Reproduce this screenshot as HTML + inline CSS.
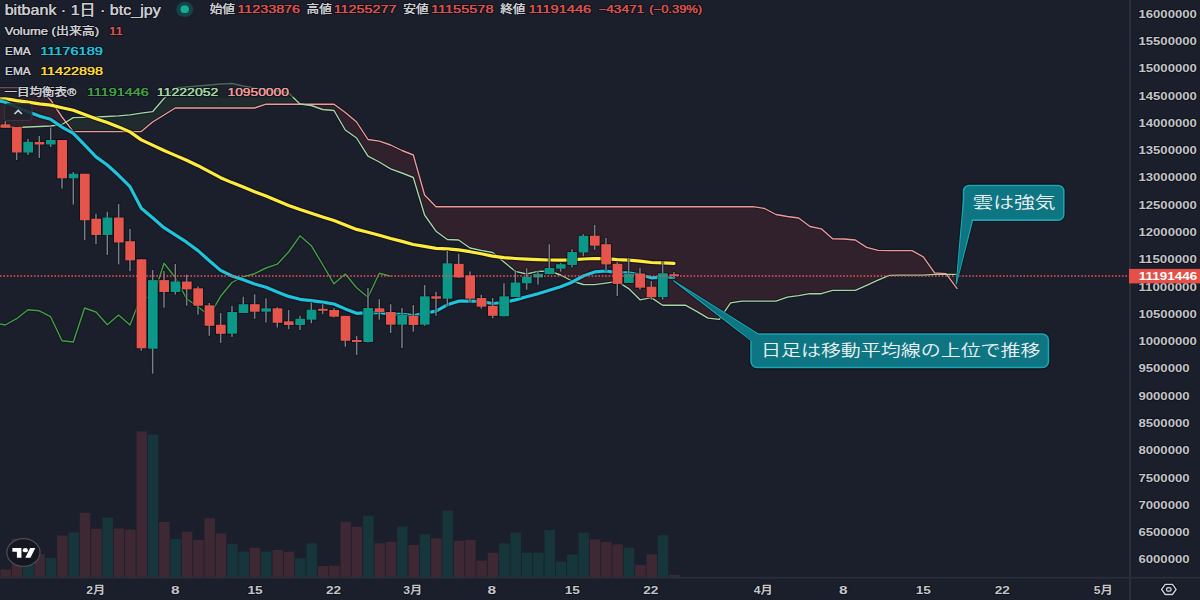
<!DOCTYPE html><html><head><meta charset="utf-8"><style>html,body{margin:0;padding:0;background:#1b1f2b;}svg{display:block}</style></head><body>
<svg width="1200" height="600" viewBox="0 0 1200 600">
<rect width="1200" height="600" fill="#1b1f2b"/>
<defs><clipPath id="pane"><rect x="0" y="0" width="1129" height="577"/></clipPath></defs>
<g clip-path="url(#pane)">
<rect x="0.45" y="569.3" width="10.5" height="7.7" fill="#3d2833"/>
<rect x="11.78" y="538.7" width="10.5" height="38.3" fill="#3d2833"/>
<rect x="23.12" y="548.0" width="10.5" height="29.0" fill="#17363b"/>
<rect x="34.45" y="554.1" width="10.5" height="22.9" fill="#3d2833"/>
<rect x="45.78" y="557.9" width="10.5" height="19.1" fill="#17363b"/>
<rect x="57.12" y="535.5" width="10.5" height="41.5" fill="#3d2833"/>
<rect x="68.45" y="532.5" width="10.5" height="44.5" fill="#17363b"/>
<rect x="79.78" y="512.8" width="10.5" height="64.2" fill="#3d2833"/>
<rect x="91.12" y="528.8" width="10.5" height="48.2" fill="#3d2833"/>
<rect x="102.45" y="517.6" width="10.5" height="59.4" fill="#17363b"/>
<rect x="113.78" y="528.5" width="10.5" height="48.5" fill="#3d2833"/>
<rect x="125.12" y="529.6" width="10.5" height="47.4" fill="#3d2833"/>
<rect x="136.45" y="431.5" width="10.5" height="145.5" fill="#3d2833"/>
<rect x="147.78" y="434.7" width="10.5" height="142.3" fill="#17363b"/>
<rect x="159.12" y="522.0" width="10.5" height="55.0" fill="#3d2833"/>
<rect x="170.45" y="539.0" width="10.5" height="38.0" fill="#17363b"/>
<rect x="181.78" y="531.7" width="10.5" height="45.3" fill="#3d2833"/>
<rect x="193.12" y="540.0" width="10.5" height="37.0" fill="#3d2833"/>
<rect x="204.45" y="518.3" width="10.5" height="58.7" fill="#3d2833"/>
<rect x="215.78" y="533.3" width="10.5" height="43.7" fill="#3d2833"/>
<rect x="227.12" y="544.0" width="10.5" height="33.0" fill="#17363b"/>
<rect x="238.45" y="551.7" width="10.5" height="25.3" fill="#17363b"/>
<rect x="249.78" y="547.7" width="10.5" height="29.3" fill="#3d2833"/>
<rect x="261.12" y="551.7" width="10.5" height="25.3" fill="#17363b"/>
<rect x="272.45" y="550.0" width="10.5" height="27.0" fill="#3d2833"/>
<rect x="283.78" y="551.7" width="10.5" height="25.3" fill="#3d2833"/>
<rect x="295.12" y="558.3" width="10.5" height="18.7" fill="#17363b"/>
<rect x="306.45" y="543.3" width="10.5" height="33.7" fill="#17363b"/>
<rect x="317.78" y="566.0" width="10.5" height="11.0" fill="#3d2833"/>
<rect x="329.12" y="565.7" width="10.5" height="11.3" fill="#3d2833"/>
<rect x="340.45" y="521.7" width="10.5" height="55.3" fill="#3d2833"/>
<rect x="351.78" y="526.7" width="10.5" height="50.3" fill="#3d2833"/>
<rect x="363.12" y="515.7" width="10.5" height="61.3" fill="#17363b"/>
<rect x="374.45" y="543.3" width="10.5" height="33.7" fill="#3d2833"/>
<rect x="385.78" y="541.7" width="10.5" height="35.3" fill="#3d2833"/>
<rect x="397.12" y="526.7" width="10.5" height="50.3" fill="#17363b"/>
<rect x="408.45" y="545.0" width="10.5" height="32.0" fill="#3d2833"/>
<rect x="419.78" y="534.3" width="10.5" height="42.7" fill="#17363b"/>
<rect x="431.12" y="538.3" width="10.5" height="38.7" fill="#3d2833"/>
<rect x="442.45" y="510.7" width="10.5" height="66.3" fill="#17363b"/>
<rect x="453.78" y="540.7" width="10.5" height="36.3" fill="#3d2833"/>
<rect x="465.12" y="540.0" width="10.5" height="37.0" fill="#3d2833"/>
<rect x="476.45" y="560.7" width="10.5" height="16.3" fill="#3d2833"/>
<rect x="487.78" y="552.7" width="10.5" height="24.3" fill="#3d2833"/>
<rect x="499.12" y="543.3" width="10.5" height="33.7" fill="#17363b"/>
<rect x="510.45" y="532.7" width="10.5" height="44.3" fill="#17363b"/>
<rect x="521.78" y="552.7" width="10.5" height="24.3" fill="#17363b"/>
<rect x="533.12" y="552.7" width="10.5" height="24.3" fill="#17363b"/>
<rect x="544.45" y="530.0" width="10.5" height="47.0" fill="#17363b"/>
<rect x="555.78" y="561.7" width="10.5" height="15.3" fill="#17363b"/>
<rect x="567.11" y="554.3" width="10.5" height="22.7" fill="#17363b"/>
<rect x="578.45" y="532.7" width="10.5" height="44.3" fill="#17363b"/>
<rect x="589.78" y="539.3" width="10.5" height="37.7" fill="#3d2833"/>
<rect x="601.11" y="542.0" width="10.5" height="35.0" fill="#3d2833"/>
<rect x="612.45" y="544.3" width="10.5" height="32.7" fill="#3d2833"/>
<rect x="623.78" y="547.7" width="10.5" height="29.3" fill="#17363b"/>
<rect x="635.11" y="565.0" width="10.5" height="12.0" fill="#3d2833"/>
<rect x="646.45" y="554.3" width="10.5" height="22.7" fill="#3d2833"/>
<rect x="657.78" y="535.3" width="10.5" height="41.7" fill="#17363b"/>
<rect x="669.11" y="574.7" width="10.5" height="2.3" fill="#3d2833"/>
<path d="M0.0,126.5 L5.3,126.5 L5.3,87.6 L0.0,87.6 Z M5.3,126.5 L16.6,127.5 L16.6,87.6 L5.3,87.6 Z M16.6,127.5 L28.0,127.0 L28.0,87.6 L16.6,87.6 Z M28.0,127.0 L39.3,126.5 L39.3,89.0 L28.0,87.6 Z M39.3,126.5 L50.6,126.0 L50.6,100.0 L39.3,89.0 Z M50.6,126.0 L62.0,124.5 L62.0,117.0 L50.6,100.0 Z M62.0,124.5 L65.9,122.1 L65.9,122.1 L62.0,117.0 Z M301.5,104.2 L311.3,105.5 L311.3,104.2 L301.5,104.2 Z M311.3,105.5 L322.6,109.5 L322.6,104.2 L311.3,104.2 Z M322.6,109.5 L334.0,110.5 L334.0,104.2 L322.6,104.2 Z M334.0,110.5 L345.3,130.0 L345.3,112.5 L334.0,104.2 Z M345.3,130.0 L356.6,138.0 L356.6,122.0 L345.3,112.5 Z M356.6,138.0 L368.0,156.2 L368.0,139.5 L356.6,122.0 Z M368.0,156.2 L379.3,162.0 L379.3,141.2 L368.0,139.5 Z M379.3,162.0 L390.6,168.8 L390.6,145.0 L379.3,141.2 Z M390.6,168.8 L402.0,173.0 L402.0,150.5 L390.6,145.0 Z M402.0,173.0 L413.3,177.5 L413.3,155.0 L402.0,150.5 Z M413.3,177.5 L424.6,215.0 L424.6,195.0 L413.3,155.0 Z M424.6,215.0 L436.0,231.2 L436.0,206.7 L424.6,195.0 Z M436.0,231.2 L447.3,239.5 L447.3,206.7 L436.0,206.7 Z M447.3,239.5 L458.6,240.0 L458.6,206.7 L447.3,206.7 Z M458.6,240.0 L470.0,248.0 L470.0,206.7 L458.6,206.7 Z M470.0,248.0 L481.3,250.5 L481.3,206.7 L470.0,206.7 Z M481.3,250.5 L492.6,252.5 L492.6,206.7 L481.3,206.7 Z M492.6,252.5 L504.0,262.0 L504.0,206.7 L492.6,206.7 Z M504.0,262.0 L515.3,271.3 L515.3,206.7 L504.0,206.7 Z M515.3,271.3 L526.6,274.0 L526.6,206.7 L515.3,206.7 Z M526.6,274.0 L538.0,271.3 L538.0,206.7 L526.6,206.7 Z M538.0,271.3 L549.3,271.0 L549.3,206.7 L538.0,206.7 Z M549.3,271.0 L560.6,275.0 L560.6,206.7 L549.3,206.7 Z M560.6,275.0 L572.0,281.0 L572.0,206.7 L560.6,206.7 Z M572.0,281.0 L583.3,284.5 L583.3,206.7 L572.0,206.7 Z M583.3,284.5 L594.6,284.6 L594.6,206.7 L583.3,206.7 Z M594.6,284.6 L606.0,283.1 L606.0,206.7 L594.6,206.7 Z M606.0,283.1 L617.3,281.4 L617.3,206.7 L606.0,206.7 Z M617.3,281.4 L628.6,288.6 L628.6,206.7 L617.3,206.7 Z M628.6,288.6 L640.0,299.8 L640.0,206.7 L628.6,206.7 Z M640.0,299.8 L651.3,297.6 L651.3,206.7 L640.0,206.7 Z M651.3,297.6 L662.6,305.2 L662.6,206.7 L651.3,206.7 Z M662.6,305.2 L674.0,305.2 L674.0,206.7 L662.6,206.7 Z M674.0,305.2 L685.3,305.2 L685.3,206.7 L674.0,206.7 Z M685.3,305.2 L696.6,311.4 L696.6,206.7 L685.3,206.7 Z M696.6,311.4 L708.0,318.2 L708.0,206.7 L696.6,206.7 Z M708.0,318.2 L719.3,319.4 L719.3,206.7 L708.0,206.7 Z M719.3,319.4 L730.6,302.9 L730.6,206.7 L719.3,206.7 Z M730.6,302.9 L742.0,301.1 L742.0,206.7 L730.6,206.7 Z M742.0,301.1 L753.3,301.1 L753.3,206.7 L742.0,206.7 Z M753.3,301.1 L764.6,301.1 L764.6,208.5 L753.3,206.7 Z M764.6,301.1 L776.0,301.1 L776.0,214.5 L764.6,208.5 Z M776.0,301.1 L787.3,297.1 L787.3,216.5 L776.0,214.5 Z M787.3,297.1 L798.6,295.6 L798.6,218.0 L787.3,216.5 Z M798.6,295.6 L810.0,293.7 L810.0,226.5 L798.6,218.0 Z M810.0,293.7 L821.3,293.7 L821.3,228.8 L810.0,226.5 Z M821.3,293.7 L832.6,290.4 L832.6,238.8 L821.3,228.8 Z M832.6,290.4 L844.0,290.4 L844.0,239.0 L832.6,238.8 Z M844.0,290.4 L855.3,290.4 L855.3,240.0 L844.0,239.0 Z M855.3,290.4 L866.6,285.4 L866.6,247.4 L855.3,240.0 Z M866.6,285.4 L878.0,280.2 L878.0,250.3 L866.6,247.4 Z M878.0,280.2 L889.3,275.4 L889.3,250.6 L878.0,250.3 Z M889.3,275.4 L900.6,275.1 L900.6,250.6 L889.3,250.6 Z M900.6,275.1 L912.0,275.1 L912.0,250.6 L900.6,250.6 Z M912.0,275.1 L923.3,275.1 L923.3,256.9 L912.0,250.6 Z M923.3,275.1 L934.6,274.3 L934.6,272.9 L923.3,256.9 Z M934.6,274.3 L946.0,274.3 L946.0,273.7 L934.6,272.9 Z M946.0,274.3 L946.4,274.3 L946.4,274.3 L946.0,273.7 Z" fill="rgba(242,54,69,0.10)"/>
<path d="M65.9,122.1 L73.3,117.6 L73.3,131.6 L65.9,122.1 Z M73.3,117.6 L84.6,117.3 L84.6,131.6 L73.3,131.6 Z M84.6,117.3 L96.0,117.0 L96.0,131.6 L84.6,131.6 Z M96.0,117.0 L107.3,116.5 L107.3,131.6 L96.0,131.6 Z M107.3,116.5 L118.6,115.9 L118.6,131.6 L107.3,131.6 Z M118.6,115.9 L130.0,114.8 L130.0,131.6 L118.6,131.6 Z M130.0,114.8 L141.3,113.2 L141.3,131.6 L130.0,131.6 Z M141.3,113.2 L152.6,111.7 L152.6,122.0 L141.3,131.6 Z M152.6,111.7 L164.0,98.5 L164.0,115.0 L152.6,122.0 Z M164.0,98.5 L175.3,88.0 L175.3,108.0 L164.0,115.0 Z M175.3,88.0 L186.6,87.0 L186.6,108.0 L175.3,108.0 Z M186.6,87.0 L198.0,86.0 L198.0,108.0 L186.6,108.0 Z M198.0,86.0 L209.3,85.0 L209.3,108.0 L198.0,108.0 Z M209.3,85.0 L220.6,84.0 L220.6,108.0 L209.3,108.0 Z M220.6,84.0 L232.0,83.5 L232.0,108.0 L220.6,108.0 Z M232.0,83.5 L243.3,86.0 L243.3,108.0 L232.0,108.0 Z M243.3,86.0 L254.6,88.0 L254.6,108.0 L243.3,108.0 Z M254.6,88.0 L266.0,89.5 L266.0,104.2 L254.6,108.0 Z M266.0,89.5 L277.3,91.0 L277.3,104.2 L266.0,104.2 Z M277.3,91.0 L288.6,93.0 L288.6,104.2 L277.3,104.2 Z M288.6,93.0 L300.0,104.0 L300.0,104.2 L288.6,104.2 Z M300.0,104.0 L301.5,104.2 L301.5,104.2 L300.0,104.2 Z M946.4,274.3 L957.3,274.3 L957.3,288.9 L946.4,274.3 Z" fill="rgba(67,160,71,0.10)"/>
<polyline points="0.0,87.6 5.3,87.6 16.6,87.6 28.0,87.6 39.3,89.0 50.6,100.0 62.0,117.0 73.3,131.6 84.6,131.6 96.0,131.6 107.3,131.6 118.6,131.6 130.0,131.6 141.3,131.6 152.6,122.0 164.0,115.0 175.3,108.0 186.6,108.0 198.0,108.0 209.3,108.0 220.6,108.0 232.0,108.0 243.3,108.0 254.6,108.0 266.0,104.2 277.3,104.2 288.6,104.2 300.0,104.2 311.3,104.2 322.6,104.2 334.0,104.2 345.3,112.5 356.6,122.0 368.0,139.5 379.3,141.2 390.6,145.0 402.0,150.5 413.3,155.0 424.6,195.0 436.0,206.7 447.3,206.7 458.6,206.7 470.0,206.7 481.3,206.7 492.6,206.7 504.0,206.7 515.3,206.7 526.6,206.7 538.0,206.7 549.3,206.7 560.6,206.7 572.0,206.7 583.3,206.7 594.6,206.7 606.0,206.7 617.3,206.7 628.6,206.7 640.0,206.7 651.3,206.7 662.6,206.7 674.0,206.7 685.3,206.7 696.6,206.7 708.0,206.7 719.3,206.7 730.6,206.7 742.0,206.7 753.3,206.7 764.6,208.5 776.0,214.5 787.3,216.5 798.6,218.0 810.0,226.5 821.3,228.8 832.6,238.8 844.0,239.0 855.3,240.0 866.6,247.4 878.0,250.3 889.3,250.6 900.6,250.6 912.0,250.6 923.3,256.9 934.6,272.9 946.0,273.7 957.3,288.9" fill="none" stroke="#07090e" stroke-opacity="0.45" stroke-width="3.2" stroke-linejoin="round"/>
<polyline points="0.0,126.5 5.3,126.5 16.6,127.5 28.0,127.0 39.3,126.5 50.6,126.0 62.0,124.5 73.3,117.6 84.6,117.3 96.0,117.0 107.3,116.5 118.6,115.9 130.0,114.8 141.3,113.2 152.6,111.7 164.0,98.5 175.3,88.0 186.6,87.0 198.0,86.0 209.3,85.0 220.6,84.0 232.0,83.5 243.3,86.0 254.6,88.0 266.0,89.5 277.3,91.0 288.6,93.0 300.0,104.0 311.3,105.5 322.6,109.5 334.0,110.5 345.3,130.0 356.6,138.0 368.0,156.2 379.3,162.0 390.6,168.8 402.0,173.0 413.3,177.5 424.6,215.0 436.0,231.2 447.3,239.5 458.6,240.0 470.0,248.0 481.3,250.5 492.6,252.5 504.0,262.0 515.3,271.3 526.6,274.0 538.0,271.3 549.3,271.0 560.6,275.0 572.0,281.0 583.3,284.5 594.6,284.6 606.0,283.1 617.3,281.4 628.6,288.6 640.0,299.8 651.3,297.6 662.6,305.2 674.0,305.2 685.3,305.2 696.6,311.4 708.0,318.2 719.3,319.4 730.6,302.9 742.0,301.1 753.3,301.1 764.6,301.1 776.0,301.1 787.3,297.1 798.6,295.6 810.0,293.7 821.3,293.7 832.6,290.4 844.0,290.4 855.3,290.4 866.6,285.4 878.0,280.2 889.3,275.4 900.6,275.1 912.0,275.1 923.3,275.1 934.6,274.3 946.0,274.3 957.3,274.3" fill="none" stroke="#07090e" stroke-opacity="0.45" stroke-width="3.2" stroke-linejoin="round"/>
<polyline points="0.0,324.0 5.3,325.0 16.6,318.7 28.0,309.7 39.3,310.8 50.6,316.7 62.0,340.8 73.3,342.0 84.6,308.0 96.0,312.0 107.3,324.7 118.6,315.0 130.0,325.0 141.3,296.3 152.6,298.7 164.0,263.3 175.3,277.5 186.6,298.7 198.0,306.7 209.3,315.8 220.6,296.3 232.0,282.5 243.3,276.7 254.6,273.7 266.0,268.0 277.3,264.2 288.6,252.0 300.0,235.8 311.3,245.7 322.6,264.5 334.0,283.8 345.3,274.0 356.6,287.8 368.0,297.2 379.3,273.2 390.6,276.2" fill="none" stroke="#07090e" stroke-opacity="0.45" stroke-width="3.2" stroke-linejoin="round"/>
<polyline points="0.0,87.6 5.3,87.6 16.6,87.6 28.0,87.6 39.3,89.0 50.6,100.0 62.0,117.0 73.3,131.6 84.6,131.6 96.0,131.6 107.3,131.6 118.6,131.6 130.0,131.6 141.3,131.6 152.6,122.0 164.0,115.0 175.3,108.0 186.6,108.0 198.0,108.0 209.3,108.0 220.6,108.0 232.0,108.0 243.3,108.0 254.6,108.0 266.0,104.2 277.3,104.2 288.6,104.2 300.0,104.2 311.3,104.2 322.6,104.2 334.0,104.2 345.3,112.5 356.6,122.0 368.0,139.5 379.3,141.2 390.6,145.0 402.0,150.5 413.3,155.0 424.6,195.0 436.0,206.7 447.3,206.7 458.6,206.7 470.0,206.7 481.3,206.7 492.6,206.7 504.0,206.7 515.3,206.7 526.6,206.7 538.0,206.7 549.3,206.7 560.6,206.7 572.0,206.7 583.3,206.7 594.6,206.7 606.0,206.7 617.3,206.7 628.6,206.7 640.0,206.7 651.3,206.7 662.6,206.7 674.0,206.7 685.3,206.7 696.6,206.7 708.0,206.7 719.3,206.7 730.6,206.7 742.0,206.7 753.3,206.7 764.6,208.5 776.0,214.5 787.3,216.5 798.6,218.0 810.0,226.5 821.3,228.8 832.6,238.8 844.0,239.0 855.3,240.0 866.6,247.4 878.0,250.3 889.3,250.6 900.6,250.6 912.0,250.6 923.3,256.9 934.6,272.9 946.0,273.7 957.3,288.9" fill="none" stroke="#ef9a9a" stroke-width="1.35" stroke-linejoin="round"/>
<polyline points="0.0,126.5 5.3,126.5 16.6,127.5 28.0,127.0 39.3,126.5 50.6,126.0 62.0,124.5 73.3,117.6 84.6,117.3 96.0,117.0 107.3,116.5 118.6,115.9 130.0,114.8 141.3,113.2 152.6,111.7 164.0,98.5 175.3,88.0 186.6,87.0 198.0,86.0 209.3,85.0 220.6,84.0 232.0,83.5 243.3,86.0 254.6,88.0 266.0,89.5 277.3,91.0 288.6,93.0 300.0,104.0 311.3,105.5 322.6,109.5 334.0,110.5 345.3,130.0 356.6,138.0 368.0,156.2 379.3,162.0 390.6,168.8 402.0,173.0 413.3,177.5 424.6,215.0 436.0,231.2 447.3,239.5 458.6,240.0 470.0,248.0 481.3,250.5 492.6,252.5 504.0,262.0 515.3,271.3 526.6,274.0 538.0,271.3 549.3,271.0 560.6,275.0 572.0,281.0 583.3,284.5 594.6,284.6 606.0,283.1 617.3,281.4 628.6,288.6 640.0,299.8 651.3,297.6 662.6,305.2 674.0,305.2 685.3,305.2 696.6,311.4 708.0,318.2 719.3,319.4 730.6,302.9 742.0,301.1 753.3,301.1 764.6,301.1 776.0,301.1 787.3,297.1 798.6,295.6 810.0,293.7 821.3,293.7 832.6,290.4 844.0,290.4 855.3,290.4 866.6,285.4 878.0,280.2 889.3,275.4 900.6,275.1 912.0,275.1 923.3,275.1 934.6,274.3 946.0,274.3 957.3,274.3" fill="none" stroke="#a5d6a7" stroke-width="1.35" stroke-linejoin="round"/>
<polyline points="0.0,324.0 5.3,325.0 16.6,318.7 28.0,309.7 39.3,310.8 50.6,316.7 62.0,340.8 73.3,342.0 84.6,308.0 96.0,312.0 107.3,324.7 118.6,315.0 130.0,325.0 141.3,296.3 152.6,298.7 164.0,263.3 175.3,277.5 186.6,298.7 198.0,306.7 209.3,315.8 220.6,296.3 232.0,282.5 243.3,276.7 254.6,273.7 266.0,268.0 277.3,264.2 288.6,252.0 300.0,235.8 311.3,245.7 322.6,264.5 334.0,283.8 345.3,274.0 356.6,287.8 368.0,297.2 379.3,273.2 390.6,276.2" fill="none" stroke="#43a047" stroke-width="1.4" stroke-linejoin="round"/>
<polyline points="-6.0,98.6 5.3,98.7 16.6,100.7 28.0,102.2 39.3,103.8 50.6,105.1 62.0,107.8 73.3,110.3 84.6,114.4 96.0,118.8 107.3,122.5 118.6,126.9 130.0,131.9 141.3,139.9 152.6,145.1 164.0,150.5 175.3,155.4 186.6,160.3 198.0,165.7 209.3,171.7 220.6,177.7 232.0,182.6 243.3,187.1 254.6,191.7 266.0,196.1 277.3,200.8 288.6,205.4 300.0,209.6 311.3,213.3 322.6,216.9 334.0,220.6 345.3,225.0 356.6,229.4 368.0,232.3 379.3,235.2 390.6,238.5 402.0,241.4 413.3,244.5 424.6,246.4 436.0,248.3 447.3,248.9 458.6,249.9 470.0,251.7 481.3,253.8 492.6,256.1 504.0,257.6 515.3,258.5 526.6,259.2 538.0,259.7 549.3,260.0 560.6,260.2 572.0,259.9 583.3,259.0 594.6,258.5 606.0,258.7 617.3,259.6 628.6,260.2 640.0,261.2 651.3,262.5 662.6,262.9 674.0,263.4" fill="none" stroke="#07090e" stroke-opacity="0.55" stroke-width="5.4" stroke-linejoin="round" stroke-linecap="round"/>
<polyline points="-6.0,98.6 5.3,98.7 16.6,100.7 28.0,102.2 39.3,103.8 50.6,105.1 62.0,107.8 73.3,110.3 84.6,114.4 96.0,118.8 107.3,122.5 118.6,126.9 130.0,131.9 141.3,139.9 152.6,145.1 164.0,150.5 175.3,155.4 186.6,160.3 198.0,165.7 209.3,171.7 220.6,177.7 232.0,182.6 243.3,187.1 254.6,191.7 266.0,196.1 277.3,200.8 288.6,205.4 300.0,209.6 311.3,213.3 322.6,216.9 334.0,220.6 345.3,225.0 356.6,229.4 368.0,232.3 379.3,235.2 390.6,238.5 402.0,241.4 413.3,244.5 424.6,246.4 436.0,248.3 447.3,248.9 458.6,249.9 470.0,251.7 481.3,253.8 492.6,256.1 504.0,257.6 515.3,258.5 526.6,259.2 538.0,259.7 549.3,260.0 560.6,260.2 572.0,259.9 583.3,259.0 594.6,258.5 606.0,258.7 617.3,259.6 628.6,260.2 640.0,261.2 651.3,262.5 662.6,262.9 674.0,263.4" fill="none" stroke="#ffeb3b" stroke-width="3.2" stroke-linejoin="round" stroke-linecap="round"/>
<polyline points="-2.0,100.6 5.3,102.2 16.6,107.1 28.0,111.7 39.3,116.1 50.6,119.3 62.0,127.1 73.3,133.3 84.6,144.9 96.0,156.9 107.3,165.0 118.6,175.3 130.0,186.7 141.3,208.2 152.6,217.8 164.0,227.7 175.3,234.9 186.6,242.2 198.0,250.6 209.3,260.7 220.6,270.4 232.0,276.0 243.3,279.7 254.6,284.0 266.0,287.2 277.3,292.0 288.6,296.4 300.0,299.3 311.3,300.7 322.6,302.1 334.0,304.0 345.3,308.9 356.6,313.3 368.0,312.6 379.3,312.5 390.6,314.2 402.0,314.3 413.3,315.7 424.6,313.1 436.0,311.2 447.3,304.8 458.6,301.2 470.0,300.8 481.3,301.6 492.6,303.5 504.0,302.5 515.3,299.9 526.6,296.8 538.0,293.7 549.3,290.3 560.6,286.8 572.0,282.2 583.3,276.0 594.6,271.9 606.0,271.0 617.3,272.7 628.6,272.8 640.0,274.8 651.3,277.8 662.6,277.2 674.0,277.1" fill="none" stroke="#07090e" stroke-opacity="0.55" stroke-width="5.4" stroke-linejoin="round" stroke-linecap="round"/>
<polyline points="-2.0,100.6 5.3,102.2 16.6,107.1 28.0,111.7 39.3,116.1 50.6,119.3 62.0,127.1 73.3,133.3 84.6,144.9 96.0,156.9 107.3,165.0 118.6,175.3 130.0,186.7 141.3,208.2 152.6,217.8 164.0,227.7 175.3,234.9 186.6,242.2 198.0,250.6 209.3,260.7 220.6,270.4 232.0,276.0 243.3,279.7 254.6,284.0 266.0,287.2 277.3,292.0 288.6,296.4 300.0,299.3 311.3,300.7 322.6,302.1 334.0,304.0 345.3,308.9 356.6,313.3 368.0,312.6 379.3,312.5 390.6,314.2 402.0,314.3 413.3,315.7 424.6,313.1 436.0,311.2 447.3,304.8 458.6,301.2 470.0,300.8 481.3,301.6 492.6,303.5 504.0,302.5 515.3,299.9 526.6,296.8 538.0,293.7 549.3,290.3 560.6,286.8 572.0,282.2 583.3,276.0 594.6,271.9 606.0,271.0 617.3,272.7 628.6,272.8 640.0,274.8 651.3,277.8 662.6,277.2 674.0,277.1" fill="none" stroke="#1ec3dc" stroke-width="3.2" stroke-linejoin="round" stroke-linecap="round"/>
<rect x="3.65" y="120.3" width="3.3" height="8.3" fill="#07090e" fill-opacity="0.45"/>
<rect x="-0.25" y="123.4" width="11.5" height="5.3" fill="#07090e" fill-opacity="0.6"/>
<rect x="14.98" y="126.2" width="3.3" height="34.6" fill="#07090e" fill-opacity="0.45"/>
<rect x="11.08" y="126.1" width="11.5" height="27.3" fill="#07090e" fill-opacity="0.6"/>
<rect x="26.32" y="137.9" width="3.3" height="17.9" fill="#07090e" fill-opacity="0.45"/>
<rect x="22.42" y="140.8" width="11.5" height="12.6" fill="#07090e" fill-opacity="0.6"/>
<rect x="37.65" y="135.2" width="3.3" height="23.6" fill="#07090e" fill-opacity="0.45"/>
<rect x="33.75" y="141.1" width="11.5" height="4.3" fill="#07090e" fill-opacity="0.6"/>
<rect x="48.98" y="126.7" width="3.3" height="21.1" fill="#07090e" fill-opacity="0.45"/>
<rect x="45.08" y="139.1" width="11.5" height="6.3" fill="#07090e" fill-opacity="0.6"/>
<rect x="60.32" y="139.2" width="3.3" height="50.3" fill="#07090e" fill-opacity="0.45"/>
<rect x="56.42" y="139.1" width="11.5" height="40.1" fill="#07090e" fill-opacity="0.6"/>
<rect x="71.65" y="171.2" width="3.3" height="34.3" fill="#07090e" fill-opacity="0.45"/>
<rect x="67.75" y="172.8" width="11.5" height="6.4" fill="#07090e" fill-opacity="0.6"/>
<rect x="82.98" y="172.9" width="3.3" height="68.2" fill="#07090e" fill-opacity="0.45"/>
<rect x="79.08" y="172.8" width="11.5" height="48.4" fill="#07090e" fill-opacity="0.6"/>
<rect x="94.32" y="212.9" width="3.3" height="32.1" fill="#07090e" fill-opacity="0.45"/>
<rect x="90.42" y="217.8" width="11.5" height="18.1" fill="#07090e" fill-opacity="0.6"/>
<rect x="105.65" y="210.9" width="3.3" height="44.9" fill="#07090e" fill-opacity="0.45"/>
<rect x="101.75" y="216.6" width="11.5" height="19.3" fill="#07090e" fill-opacity="0.6"/>
<rect x="116.98" y="203.2" width="3.3" height="62.1" fill="#07090e" fill-opacity="0.45"/>
<rect x="113.08" y="216.6" width="11.5" height="26.8" fill="#07090e" fill-opacity="0.6"/>
<rect x="128.32" y="227.9" width="3.3" height="44.1" fill="#07090e" fill-opacity="0.45"/>
<rect x="124.42" y="240.3" width="11.5" height="21.1" fill="#07090e" fill-opacity="0.6"/>
<rect x="139.65" y="258.2" width="3.3" height="93.4" fill="#07090e" fill-opacity="0.45"/>
<rect x="135.75" y="258.4" width="11.5" height="90.8" fill="#07090e" fill-opacity="0.6"/>
<rect x="150.98" y="269.2" width="3.3" height="105.3" fill="#07090e" fill-opacity="0.45"/>
<rect x="147.08" y="279.2" width="11.5" height="70.4" fill="#07090e" fill-opacity="0.6"/>
<rect x="162.32" y="270.2" width="3.3" height="38.3" fill="#07090e" fill-opacity="0.45"/>
<rect x="158.42" y="279.2" width="11.5" height="13.7" fill="#07090e" fill-opacity="0.6"/>
<rect x="173.65" y="263.2" width="3.3" height="32.1" fill="#07090e" fill-opacity="0.45"/>
<rect x="169.75" y="280.6" width="11.5" height="12.3" fill="#07090e" fill-opacity="0.6"/>
<rect x="184.98" y="273.7" width="3.3" height="32.8" fill="#07090e" fill-opacity="0.45"/>
<rect x="181.08" y="280.6" width="11.5" height="9.7" fill="#07090e" fill-opacity="0.6"/>
<rect x="196.32" y="285.6" width="3.3" height="29.9" fill="#07090e" fill-opacity="0.45"/>
<rect x="192.42" y="287.4" width="11.5" height="19.2" fill="#07090e" fill-opacity="0.6"/>
<rect x="207.65" y="302.2" width="3.3" height="34.4" fill="#07090e" fill-opacity="0.45"/>
<rect x="203.75" y="304.4" width="11.5" height="22.3" fill="#07090e" fill-opacity="0.6"/>
<rect x="218.98" y="312.2" width="3.3" height="31.6" fill="#07090e" fill-opacity="0.45"/>
<rect x="215.08" y="323.8" width="11.5" height="10.9" fill="#07090e" fill-opacity="0.6"/>
<rect x="230.32" y="305.0" width="3.3" height="32.8" fill="#07090e" fill-opacity="0.45"/>
<rect x="226.42" y="311.1" width="11.5" height="23.5" fill="#07090e" fill-opacity="0.6"/>
<rect x="241.65" y="295.9" width="3.3" height="17.9" fill="#07090e" fill-opacity="0.45"/>
<rect x="237.75" y="303.3" width="11.5" height="10.6" fill="#07090e" fill-opacity="0.6"/>
<rect x="252.98" y="293.4" width="3.3" height="26.1" fill="#07090e" fill-opacity="0.45"/>
<rect x="249.08" y="303.3" width="11.5" height="9.3" fill="#07090e" fill-opacity="0.6"/>
<rect x="264.32" y="297.5" width="3.3" height="25.8" fill="#07090e" fill-opacity="0.45"/>
<rect x="260.42" y="307.4" width="11.5" height="5.2" fill="#07090e" fill-opacity="0.6"/>
<rect x="275.65" y="306.4" width="3.3" height="21.9" fill="#07090e" fill-opacity="0.45"/>
<rect x="271.75" y="307.4" width="11.5" height="16.3" fill="#07090e" fill-opacity="0.6"/>
<rect x="286.98" y="309.2" width="3.3" height="20.8" fill="#07090e" fill-opacity="0.45"/>
<rect x="283.08" y="320.4" width="11.5" height="5.5" fill="#07090e" fill-opacity="0.6"/>
<rect x="298.32" y="315.0" width="3.3" height="15.8" fill="#07090e" fill-opacity="0.45"/>
<rect x="294.42" y="317.8" width="11.5" height="8.1" fill="#07090e" fill-opacity="0.6"/>
<rect x="309.65" y="301.7" width="3.3" height="22.4" fill="#07090e" fill-opacity="0.45"/>
<rect x="305.75" y="308.8" width="11.5" height="11.8" fill="#07090e" fill-opacity="0.6"/>
<rect x="320.98" y="303.4" width="3.3" height="11.6" fill="#07090e" fill-opacity="0.45"/>
<rect x="317.08" y="307.9" width="11.5" height="3.8" fill="#07090e" fill-opacity="0.6"/>
<rect x="332.32" y="307.5" width="3.3" height="10.8" fill="#07090e" fill-opacity="0.45"/>
<rect x="328.42" y="309.1" width="11.5" height="8.5" fill="#07090e" fill-opacity="0.6"/>
<rect x="343.65" y="315.0" width="3.3" height="32.5" fill="#07090e" fill-opacity="0.45"/>
<rect x="339.75" y="314.9" width="11.5" height="26.8" fill="#07090e" fill-opacity="0.6"/>
<rect x="354.98" y="335.0" width="3.3" height="20.8" fill="#07090e" fill-opacity="0.45"/>
<rect x="351.08" y="339.1" width="11.5" height="3.8" fill="#07090e" fill-opacity="0.6"/>
<rect x="366.32" y="287.2" width="3.3" height="56.1" fill="#07090e" fill-opacity="0.45"/>
<rect x="362.42" y="307.1" width="11.5" height="35.8" fill="#07090e" fill-opacity="0.6"/>
<rect x="377.65" y="298.4" width="3.3" height="22.1" fill="#07090e" fill-opacity="0.45"/>
<rect x="373.75" y="307.4" width="11.5" height="5.5" fill="#07090e" fill-opacity="0.6"/>
<rect x="388.98" y="303.4" width="3.3" height="30.4" fill="#07090e" fill-opacity="0.45"/>
<rect x="385.08" y="311.1" width="11.5" height="14.5" fill="#07090e" fill-opacity="0.6"/>
<rect x="400.32" y="307.2" width="3.3" height="41.6" fill="#07090e" fill-opacity="0.45"/>
<rect x="396.42" y="314.1" width="11.5" height="11.5" fill="#07090e" fill-opacity="0.6"/>
<rect x="411.65" y="304.2" width="3.3" height="28.3" fill="#07090e" fill-opacity="0.45"/>
<rect x="407.75" y="314.9" width="11.5" height="11.0" fill="#07090e" fill-opacity="0.6"/>
<rect x="422.98" y="284.2" width="3.3" height="42.4" fill="#07090e" fill-opacity="0.45"/>
<rect x="419.08" y="295.4" width="11.5" height="30.2" fill="#07090e" fill-opacity="0.6"/>
<rect x="434.32" y="290.9" width="3.3" height="25.7" fill="#07090e" fill-opacity="0.45"/>
<rect x="430.42" y="295.4" width="11.5" height="4.2" fill="#07090e" fill-opacity="0.6"/>
<rect x="445.65" y="250.0" width="3.3" height="56.6" fill="#07090e" fill-opacity="0.45"/>
<rect x="441.75" y="262.4" width="11.5" height="37.2" fill="#07090e" fill-opacity="0.6"/>
<rect x="456.98" y="252.9" width="3.3" height="25.9" fill="#07090e" fill-opacity="0.45"/>
<rect x="453.08" y="262.9" width="11.5" height="15.5" fill="#07090e" fill-opacity="0.6"/>
<rect x="468.32" y="270.5" width="3.3" height="32.0" fill="#07090e" fill-opacity="0.45"/>
<rect x="464.42" y="274.4" width="11.5" height="25.2" fill="#07090e" fill-opacity="0.6"/>
<rect x="479.65" y="293.9" width="3.3" height="15.6" fill="#07090e" fill-opacity="0.45"/>
<rect x="475.75" y="297.1" width="11.5" height="10.5" fill="#07090e" fill-opacity="0.6"/>
<rect x="490.98" y="297.2" width="3.3" height="21.9" fill="#07090e" fill-opacity="0.45"/>
<rect x="487.08" y="304.9" width="11.5" height="11.8" fill="#07090e" fill-opacity="0.6"/>
<rect x="502.32" y="282.5" width="3.3" height="34.6" fill="#07090e" fill-opacity="0.45"/>
<rect x="498.42" y="295.4" width="11.5" height="21.8" fill="#07090e" fill-opacity="0.6"/>
<rect x="513.65" y="269.2" width="3.3" height="28.6" fill="#07090e" fill-opacity="0.45"/>
<rect x="509.75" y="281.6" width="11.5" height="16.3" fill="#07090e" fill-opacity="0.6"/>
<rect x="524.98" y="267.5" width="3.3" height="23.0" fill="#07090e" fill-opacity="0.45"/>
<rect x="521.08" y="275.8" width="11.5" height="8.4" fill="#07090e" fill-opacity="0.6"/>
<rect x="536.32" y="271.2" width="3.3" height="14.3" fill="#07090e" fill-opacity="0.45"/>
<rect x="532.42" y="272.8" width="11.5" height="5.6" fill="#07090e" fill-opacity="0.6"/>
<rect x="547.65" y="243.4" width="3.3" height="31.6" fill="#07090e" fill-opacity="0.45"/>
<rect x="543.75" y="267.1" width="11.5" height="8.0" fill="#07090e" fill-opacity="0.6"/>
<rect x="558.98" y="262.2" width="3.3" height="10.3" fill="#07090e" fill-opacity="0.45"/>
<rect x="555.08" y="263.3" width="11.5" height="6.3" fill="#07090e" fill-opacity="0.6"/>
<rect x="570.31" y="248.4" width="3.3" height="19.9" fill="#07090e" fill-opacity="0.45"/>
<rect x="566.41" y="251.1" width="11.5" height="14.8" fill="#07090e" fill-opacity="0.6"/>
<rect x="581.65" y="233.4" width="3.3" height="23.7" fill="#07090e" fill-opacity="0.45"/>
<rect x="577.75" y="234.9" width="11.5" height="18.5" fill="#07090e" fill-opacity="0.6"/>
<rect x="592.98" y="223.9" width="3.3" height="26.7" fill="#07090e" fill-opacity="0.45"/>
<rect x="589.08" y="234.8" width="11.5" height="11.8" fill="#07090e" fill-opacity="0.6"/>
<rect x="604.31" y="237.0" width="3.3" height="34.3" fill="#07090e" fill-opacity="0.45"/>
<rect x="600.41" y="243.3" width="11.5" height="22.1" fill="#07090e" fill-opacity="0.6"/>
<rect x="615.65" y="261.0" width="3.3" height="35.8" fill="#07090e" fill-opacity="0.45"/>
<rect x="611.75" y="262.9" width="11.5" height="21.9" fill="#07090e" fill-opacity="0.6"/>
<rect x="626.98" y="256.9" width="3.3" height="26.9" fill="#07090e" fill-opacity="0.45"/>
<rect x="623.08" y="273.1" width="11.5" height="10.8" fill="#07090e" fill-opacity="0.6"/>
<rect x="638.31" y="267.0" width="3.3" height="23.5" fill="#07090e" fill-opacity="0.45"/>
<rect x="634.41" y="272.6" width="11.5" height="16.1" fill="#07090e" fill-opacity="0.6"/>
<rect x="649.65" y="280.2" width="3.3" height="20.4" fill="#07090e" fill-opacity="0.45"/>
<rect x="645.75" y="285.8" width="11.5" height="12.3" fill="#07090e" fill-opacity="0.6"/>
<rect x="660.98" y="260.7" width="3.3" height="39.9" fill="#07090e" fill-opacity="0.45"/>
<rect x="657.08" y="272.3" width="11.5" height="25.8" fill="#07090e" fill-opacity="0.6"/>
<rect x="672.31" y="271.2" width="3.3" height="6.4" fill="#07090e" fill-opacity="0.45"/>
<rect x="668.41" y="273.4" width="11.5" height="3.7" fill="#07090e" fill-opacity="0.6"/>
<rect x="4.58" y="121.1" width="1.45" height="6.7" fill="#7c7f88"/>
<rect x="0.65" y="124.3" width="9.7" height="3.5" fill="#e6554c"/>
<rect x="15.91" y="127.0" width="1.45" height="33.0" fill="#7c7f88"/>
<rect x="11.98" y="127.0" width="9.7" height="25.5" fill="#e6554c"/>
<rect x="27.25" y="138.8" width="1.45" height="16.2" fill="#7c7f88"/>
<rect x="23.32" y="141.8" width="9.7" height="10.8" fill="#0b9888"/>
<rect x="38.58" y="136.0" width="1.45" height="22.0" fill="#7c7f88"/>
<rect x="34.65" y="142.0" width="9.7" height="2.5" fill="#e6554c"/>
<rect x="49.91" y="127.5" width="1.45" height="19.5" fill="#7c7f88"/>
<rect x="45.98" y="140.0" width="9.7" height="4.5" fill="#0b9888"/>
<rect x="61.25" y="140.0" width="1.45" height="48.7" fill="#7c7f88"/>
<rect x="57.32" y="140.0" width="9.7" height="38.3" fill="#e6554c"/>
<rect x="72.58" y="172.0" width="1.45" height="32.7" fill="#7c7f88"/>
<rect x="68.65" y="173.7" width="9.7" height="4.6" fill="#0b9888"/>
<rect x="83.91" y="173.7" width="1.45" height="66.6" fill="#7c7f88"/>
<rect x="79.98" y="173.7" width="9.7" height="46.6" fill="#e6554c"/>
<rect x="95.25" y="213.7" width="1.45" height="30.5" fill="#7c7f88"/>
<rect x="91.32" y="218.7" width="9.7" height="16.3" fill="#e6554c"/>
<rect x="106.58" y="211.7" width="1.45" height="43.3" fill="#7c7f88"/>
<rect x="102.65" y="217.5" width="9.7" height="17.5" fill="#0b9888"/>
<rect x="117.91" y="204.0" width="1.45" height="60.5" fill="#7c7f88"/>
<rect x="113.98" y="217.5" width="9.7" height="25.0" fill="#e6554c"/>
<rect x="129.25" y="228.8" width="1.45" height="42.5" fill="#7c7f88"/>
<rect x="125.32" y="241.2" width="9.7" height="19.2" fill="#e6554c"/>
<rect x="140.58" y="259.0" width="1.45" height="91.8" fill="#7c7f88"/>
<rect x="136.65" y="259.3" width="9.7" height="89.0" fill="#e6554c"/>
<rect x="151.91" y="270.0" width="1.45" height="103.7" fill="#7c7f88"/>
<rect x="147.98" y="280.1" width="9.7" height="68.6" fill="#0b9888"/>
<rect x="163.25" y="271.0" width="1.45" height="36.7" fill="#7c7f88"/>
<rect x="159.32" y="280.1" width="9.7" height="11.9" fill="#e6554c"/>
<rect x="174.58" y="264.0" width="1.45" height="30.5" fill="#7c7f88"/>
<rect x="170.65" y="281.5" width="9.7" height="10.5" fill="#0b9888"/>
<rect x="185.91" y="274.5" width="1.45" height="31.2" fill="#7c7f88"/>
<rect x="181.98" y="281.5" width="9.7" height="7.9" fill="#e6554c"/>
<rect x="197.25" y="286.4" width="1.45" height="28.3" fill="#7c7f88"/>
<rect x="193.32" y="288.3" width="9.7" height="17.4" fill="#e6554c"/>
<rect x="208.58" y="303.0" width="1.45" height="32.8" fill="#7c7f88"/>
<rect x="204.65" y="305.3" width="9.7" height="20.5" fill="#e6554c"/>
<rect x="219.91" y="313.0" width="1.45" height="30.0" fill="#7c7f88"/>
<rect x="215.98" y="324.7" width="9.7" height="9.1" fill="#e6554c"/>
<rect x="231.25" y="305.8" width="1.45" height="31.2" fill="#7c7f88"/>
<rect x="227.32" y="312.0" width="9.7" height="21.7" fill="#0b9888"/>
<rect x="242.58" y="296.7" width="1.45" height="16.3" fill="#7c7f88"/>
<rect x="238.65" y="304.2" width="9.7" height="8.8" fill="#0b9888"/>
<rect x="253.91" y="294.2" width="1.45" height="24.5" fill="#7c7f88"/>
<rect x="249.98" y="304.2" width="9.7" height="7.5" fill="#e6554c"/>
<rect x="265.25" y="298.3" width="1.45" height="24.2" fill="#7c7f88"/>
<rect x="261.32" y="308.3" width="9.7" height="3.4" fill="#0b9888"/>
<rect x="276.58" y="307.2" width="1.45" height="20.3" fill="#7c7f88"/>
<rect x="272.65" y="308.3" width="9.7" height="14.5" fill="#e6554c"/>
<rect x="287.91" y="310.0" width="1.45" height="19.2" fill="#7c7f88"/>
<rect x="283.98" y="321.3" width="9.7" height="3.7" fill="#e6554c"/>
<rect x="299.25" y="315.8" width="1.45" height="14.2" fill="#7c7f88"/>
<rect x="295.32" y="318.7" width="9.7" height="6.3" fill="#0b9888"/>
<rect x="310.58" y="302.5" width="1.45" height="20.8" fill="#7c7f88"/>
<rect x="306.65" y="309.7" width="9.7" height="10.0" fill="#0b9888"/>
<rect x="321.91" y="304.2" width="1.45" height="10.0" fill="#7c7f88"/>
<rect x="317.98" y="308.8" width="9.7" height="2.0" fill="#e6554c"/>
<rect x="333.25" y="308.3" width="1.45" height="9.2" fill="#7c7f88"/>
<rect x="329.32" y="310.0" width="9.7" height="6.7" fill="#e6554c"/>
<rect x="344.58" y="315.8" width="1.45" height="30.9" fill="#7c7f88"/>
<rect x="340.65" y="315.8" width="9.7" height="25.0" fill="#e6554c"/>
<rect x="355.91" y="335.8" width="1.45" height="19.2" fill="#7c7f88"/>
<rect x="351.98" y="340.0" width="9.7" height="2.0" fill="#e6554c"/>
<rect x="367.25" y="288.0" width="1.45" height="54.5" fill="#7c7f88"/>
<rect x="363.32" y="308.0" width="9.7" height="34.0" fill="#0b9888"/>
<rect x="378.58" y="299.2" width="1.45" height="20.5" fill="#7c7f88"/>
<rect x="374.65" y="308.3" width="9.7" height="3.7" fill="#e6554c"/>
<rect x="389.91" y="304.2" width="1.45" height="28.8" fill="#7c7f88"/>
<rect x="385.98" y="312.0" width="9.7" height="12.7" fill="#e6554c"/>
<rect x="401.25" y="308.0" width="1.45" height="40.0" fill="#7c7f88"/>
<rect x="397.32" y="315.0" width="9.7" height="9.7" fill="#0b9888"/>
<rect x="412.58" y="305.0" width="1.45" height="26.7" fill="#7c7f88"/>
<rect x="408.65" y="315.8" width="9.7" height="9.2" fill="#e6554c"/>
<rect x="423.91" y="285.0" width="1.45" height="40.8" fill="#7c7f88"/>
<rect x="419.98" y="296.3" width="9.7" height="28.4" fill="#0b9888"/>
<rect x="435.25" y="291.7" width="1.45" height="24.1" fill="#7c7f88"/>
<rect x="431.32" y="296.3" width="9.7" height="2.4" fill="#e6554c"/>
<rect x="446.58" y="250.8" width="1.45" height="55.0" fill="#7c7f88"/>
<rect x="442.65" y="263.3" width="9.7" height="35.4" fill="#0b9888"/>
<rect x="457.91" y="253.7" width="1.45" height="24.3" fill="#7c7f88"/>
<rect x="453.98" y="263.8" width="9.7" height="13.7" fill="#e6554c"/>
<rect x="469.25" y="271.3" width="1.45" height="30.4" fill="#7c7f88"/>
<rect x="465.32" y="275.3" width="9.7" height="23.4" fill="#e6554c"/>
<rect x="480.58" y="294.7" width="1.45" height="14.0" fill="#7c7f88"/>
<rect x="476.65" y="298.0" width="9.7" height="8.7" fill="#e6554c"/>
<rect x="491.91" y="298.0" width="1.45" height="20.3" fill="#7c7f88"/>
<rect x="487.98" y="305.8" width="9.7" height="10.0" fill="#e6554c"/>
<rect x="503.25" y="283.3" width="1.45" height="33.0" fill="#7c7f88"/>
<rect x="499.32" y="296.3" width="9.7" height="20.0" fill="#0b9888"/>
<rect x="514.58" y="270.0" width="1.45" height="27.0" fill="#7c7f88"/>
<rect x="510.65" y="282.5" width="9.7" height="14.5" fill="#0b9888"/>
<rect x="525.91" y="268.3" width="1.45" height="21.4" fill="#7c7f88"/>
<rect x="521.98" y="276.7" width="9.7" height="6.6" fill="#0b9888"/>
<rect x="537.25" y="272.0" width="1.45" height="12.7" fill="#7c7f88"/>
<rect x="533.32" y="273.7" width="9.7" height="3.8" fill="#0b9888"/>
<rect x="548.58" y="244.2" width="1.45" height="30.0" fill="#7c7f88"/>
<rect x="544.65" y="268.0" width="9.7" height="6.2" fill="#0b9888"/>
<rect x="559.91" y="263.0" width="1.45" height="8.7" fill="#7c7f88"/>
<rect x="555.98" y="264.2" width="9.7" height="4.5" fill="#0b9888"/>
<rect x="571.24" y="249.2" width="1.45" height="18.3" fill="#7c7f88"/>
<rect x="567.31" y="252.0" width="9.7" height="13.0" fill="#0b9888"/>
<rect x="582.58" y="234.2" width="1.45" height="22.1" fill="#7c7f88"/>
<rect x="578.65" y="235.8" width="9.7" height="16.7" fill="#0b9888"/>
<rect x="593.91" y="224.8" width="1.45" height="25.1" fill="#7c7f88"/>
<rect x="589.98" y="235.7" width="9.7" height="10.0" fill="#e6554c"/>
<rect x="605.24" y="237.8" width="1.45" height="32.7" fill="#7c7f88"/>
<rect x="601.31" y="244.2" width="9.7" height="20.2" fill="#e6554c"/>
<rect x="616.58" y="261.8" width="1.45" height="34.2" fill="#7c7f88"/>
<rect x="612.65" y="263.8" width="9.7" height="20.1" fill="#e6554c"/>
<rect x="627.91" y="257.8" width="1.45" height="25.2" fill="#7c7f88"/>
<rect x="623.98" y="274.0" width="9.7" height="9.0" fill="#0b9888"/>
<rect x="639.24" y="267.8" width="1.45" height="21.9" fill="#7c7f88"/>
<rect x="635.31" y="273.5" width="9.7" height="14.2" fill="#e6554c"/>
<rect x="650.58" y="281.0" width="1.45" height="18.8" fill="#7c7f88"/>
<rect x="646.65" y="286.7" width="9.7" height="10.5" fill="#e6554c"/>
<rect x="661.91" y="261.5" width="1.45" height="38.2" fill="#7c7f88"/>
<rect x="657.98" y="273.2" width="9.7" height="24.0" fill="#0b9888"/>
<rect x="673.24" y="272.0" width="1.45" height="4.8" fill="#7c7f88"/>
<rect x="669.31" y="274.2" width="9.7" height="1.9" fill="#e6554c"/>
<line x1="0" y1="276" x2="1129" y2="276" stroke="#ef5350" stroke-width="1.3" stroke-dasharray="1.6 1.8"/>
<path d="M673.5,280.8 L757.5,333.5 L751.2,340.5 Z" fill="none" stroke="#05070b" stroke-opacity="0.5" stroke-width="3.2" stroke-linejoin="round"/>
<rect x="751" y="334" width="297.5" height="33.5" rx="6" fill="none" stroke="#05070b" stroke-opacity="0.6" stroke-width="3.8"/>
<path d="M956.3,283.8 L963.5,200 L972.5,220.5 Z" fill="none" stroke="#05070b" stroke-opacity="0.5" stroke-width="3.2" stroke-linejoin="round"/>
<rect x="963.5" y="185.5" width="100.3" height="34.6" rx="5.5" fill="none" stroke="#05070b" stroke-opacity="0.6" stroke-width="3.8"/>
<path d="M673.5,280.8 L757.5,333.5 L751.2,340.5 Z" fill="#0e7582" fill-opacity="0.85" stroke="#1aa3b3" stroke-width="1.2" stroke-linejoin="round"/>
<rect x="751" y="334" width="297.5" height="33.5" rx="6" fill="#0e7582" stroke="#1aa3b3" stroke-width="1.6"/>
<path d="M700,298 L758.5,335 L752,341.5 Z" fill="#0e7582"/>
<path d="M956.3,283.8 L963.5,200 L972.5,220.5 Z" fill="#0e7582" stroke="#1aa3b3" stroke-width="1.3" stroke-linejoin="round"/>
<rect x="963.5" y="185.5" width="100.3" height="34.6" rx="5.5" fill="#0e7582" stroke="#1aa3b3" stroke-width="1.6"/>
<path d="M957,281 L964.3,200 L971.6,219.6 Z" fill="#0e7582"/>
<text x="761" y="355.8" font-family="Noto Sans CJK JP" font-size="16.2" font-weight="350" fill="#eef1f3" textLength="279.5" lengthAdjust="spacingAndGlyphs">日足は移動平均線の上位で推移</text>
<text x="972.6" y="207.6" font-family="Noto Sans CJK JP" font-size="16.2" font-weight="350" fill="#eef1f3" textLength="83" lengthAdjust="spacingAndGlyphs">雲は強気</text>
</g>
<rect x="1129" y="0" width="2" height="600" fill="#2a2e39"/>
<rect x="0" y="576.8" width="1200" height="1.8" fill="#2a2e39"/>
<text x="1138.4" y="17.7" font-family="Liberation Sans" font-size="10.9" font-weight="bold" fill="#c3c4c9" stroke="#07090e" stroke-width="2" stroke-opacity="0.55" paint-order="stroke" textLength="58.5" lengthAdjust="spacingAndGlyphs">16000000</text>
<text x="1138.4" y="45.0" font-family="Liberation Sans" font-size="10.9" font-weight="bold" fill="#c3c4c9" stroke="#07090e" stroke-width="2" stroke-opacity="0.55" paint-order="stroke" textLength="58.5" lengthAdjust="spacingAndGlyphs">15500000</text>
<text x="1138.4" y="72.3" font-family="Liberation Sans" font-size="10.9" font-weight="bold" fill="#c3c4c9" stroke="#07090e" stroke-width="2" stroke-opacity="0.55" paint-order="stroke" textLength="58.5" lengthAdjust="spacingAndGlyphs">15000000</text>
<text x="1138.4" y="99.5" font-family="Liberation Sans" font-size="10.9" font-weight="bold" fill="#c3c4c9" stroke="#07090e" stroke-width="2" stroke-opacity="0.55" paint-order="stroke" textLength="58.5" lengthAdjust="spacingAndGlyphs">14500000</text>
<text x="1138.4" y="126.8" font-family="Liberation Sans" font-size="10.9" font-weight="bold" fill="#c3c4c9" stroke="#07090e" stroke-width="2" stroke-opacity="0.55" paint-order="stroke" textLength="58.5" lengthAdjust="spacingAndGlyphs">14000000</text>
<text x="1138.4" y="154.1" font-family="Liberation Sans" font-size="10.9" font-weight="bold" fill="#c3c4c9" stroke="#07090e" stroke-width="2" stroke-opacity="0.55" paint-order="stroke" textLength="58.5" lengthAdjust="spacingAndGlyphs">13500000</text>
<text x="1138.4" y="181.4" font-family="Liberation Sans" font-size="10.9" font-weight="bold" fill="#c3c4c9" stroke="#07090e" stroke-width="2" stroke-opacity="0.55" paint-order="stroke" textLength="58.5" lengthAdjust="spacingAndGlyphs">13000000</text>
<text x="1138.4" y="208.7" font-family="Liberation Sans" font-size="10.9" font-weight="bold" fill="#c3c4c9" stroke="#07090e" stroke-width="2" stroke-opacity="0.55" paint-order="stroke" textLength="58.5" lengthAdjust="spacingAndGlyphs">12500000</text>
<text x="1138.4" y="235.9" font-family="Liberation Sans" font-size="10.9" font-weight="bold" fill="#c3c4c9" stroke="#07090e" stroke-width="2" stroke-opacity="0.55" paint-order="stroke" textLength="58.5" lengthAdjust="spacingAndGlyphs">12000000</text>
<text x="1138.4" y="263.2" font-family="Liberation Sans" font-size="10.9" font-weight="bold" fill="#c3c4c9" stroke="#07090e" stroke-width="2" stroke-opacity="0.55" paint-order="stroke" textLength="58.5" lengthAdjust="spacingAndGlyphs">11500000</text>
<text x="1138.4" y="290.5" font-family="Liberation Sans" font-size="10.9" font-weight="bold" fill="#c3c4c9" stroke="#07090e" stroke-width="2" stroke-opacity="0.55" paint-order="stroke" textLength="58.5" lengthAdjust="spacingAndGlyphs">11000000</text>
<text x="1138.4" y="317.8" font-family="Liberation Sans" font-size="10.9" font-weight="bold" fill="#c3c4c9" stroke="#07090e" stroke-width="2" stroke-opacity="0.55" paint-order="stroke" textLength="58.5" lengthAdjust="spacingAndGlyphs">10500000</text>
<text x="1138.4" y="345.1" font-family="Liberation Sans" font-size="10.9" font-weight="bold" fill="#c3c4c9" stroke="#07090e" stroke-width="2" stroke-opacity="0.55" paint-order="stroke" textLength="58.5" lengthAdjust="spacingAndGlyphs">10000000</text>
<text x="1138.4" y="372.3" font-family="Liberation Sans" font-size="10.9" font-weight="bold" fill="#c3c4c9" stroke="#07090e" stroke-width="2" stroke-opacity="0.55" paint-order="stroke" textLength="51.3" lengthAdjust="spacingAndGlyphs">9500000</text>
<text x="1138.4" y="399.6" font-family="Liberation Sans" font-size="10.9" font-weight="bold" fill="#c3c4c9" stroke="#07090e" stroke-width="2" stroke-opacity="0.55" paint-order="stroke" textLength="51.3" lengthAdjust="spacingAndGlyphs">9000000</text>
<text x="1138.4" y="426.9" font-family="Liberation Sans" font-size="10.9" font-weight="bold" fill="#c3c4c9" stroke="#07090e" stroke-width="2" stroke-opacity="0.55" paint-order="stroke" textLength="51.3" lengthAdjust="spacingAndGlyphs">8500000</text>
<text x="1138.4" y="454.2" font-family="Liberation Sans" font-size="10.9" font-weight="bold" fill="#c3c4c9" stroke="#07090e" stroke-width="2" stroke-opacity="0.55" paint-order="stroke" textLength="51.3" lengthAdjust="spacingAndGlyphs">8000000</text>
<text x="1138.4" y="481.5" font-family="Liberation Sans" font-size="10.9" font-weight="bold" fill="#c3c4c9" stroke="#07090e" stroke-width="2" stroke-opacity="0.55" paint-order="stroke" textLength="51.3" lengthAdjust="spacingAndGlyphs">7500000</text>
<text x="1138.4" y="508.7" font-family="Liberation Sans" font-size="10.9" font-weight="bold" fill="#c3c4c9" stroke="#07090e" stroke-width="2" stroke-opacity="0.55" paint-order="stroke" textLength="51.3" lengthAdjust="spacingAndGlyphs">7000000</text>
<text x="1138.4" y="536.0" font-family="Liberation Sans" font-size="10.9" font-weight="bold" fill="#c3c4c9" stroke="#07090e" stroke-width="2" stroke-opacity="0.55" paint-order="stroke" textLength="51.3" lengthAdjust="spacingAndGlyphs">6500000</text>
<text x="1138.4" y="563.3" font-family="Liberation Sans" font-size="10.9" font-weight="bold" fill="#c3c4c9" stroke="#07090e" stroke-width="2" stroke-opacity="0.55" paint-order="stroke" textLength="51.3" lengthAdjust="spacingAndGlyphs">6000000</text>
<rect x="1129" y="268.9" width="71" height="14.5" fill="#e44f48"/>
<text x="1138.8" y="279.6" font-family="Liberation Sans" font-size="10.3" font-weight="bold" fill="#ffffff" textLength="58.5" lengthAdjust="spacingAndGlyphs">11191446</text>
<text x="95.8" y="594.2" text-anchor="middle" font-family="Liberation Sans, Noto Sans CJK JP, sans-serif" font-size="11.3" font-weight="bold" fill="#c4c5ca" stroke="#07090e" stroke-width="2" stroke-opacity="0.5" paint-order="stroke" textLength="19.0" lengthAdjust="spacingAndGlyphs">2月</text>
<text x="175.4" y="594.2" text-anchor="middle" font-family="Liberation Sans, Noto Sans CJK JP, sans-serif" font-size="11.3" font-weight="bold" fill="#c4c5ca" stroke="#07090e" stroke-width="2" stroke-opacity="0.5" paint-order="stroke" textLength="8.6" lengthAdjust="spacingAndGlyphs">8</text>
<text x="255.0" y="594.2" text-anchor="middle" font-family="Liberation Sans, Noto Sans CJK JP, sans-serif" font-size="11.3" font-weight="bold" fill="#c4c5ca" stroke="#07090e" stroke-width="2" stroke-opacity="0.5" paint-order="stroke" textLength="15.2" lengthAdjust="spacingAndGlyphs">15</text>
<text x="333.6" y="594.2" text-anchor="middle" font-family="Liberation Sans, Noto Sans CJK JP, sans-serif" font-size="11.3" font-weight="bold" fill="#c4c5ca" stroke="#07090e" stroke-width="2" stroke-opacity="0.5" paint-order="stroke" textLength="15.2" lengthAdjust="spacingAndGlyphs">22</text>
<text x="412.7" y="594.2" text-anchor="middle" font-family="Liberation Sans, Noto Sans CJK JP, sans-serif" font-size="11.3" font-weight="bold" fill="#c4c5ca" stroke="#07090e" stroke-width="2" stroke-opacity="0.5" paint-order="stroke" textLength="19.0" lengthAdjust="spacingAndGlyphs">3月</text>
<text x="491.7" y="594.2" text-anchor="middle" font-family="Liberation Sans, Noto Sans CJK JP, sans-serif" font-size="11.3" font-weight="bold" fill="#c4c5ca" stroke="#07090e" stroke-width="2" stroke-opacity="0.5" paint-order="stroke" textLength="8.6" lengthAdjust="spacingAndGlyphs">8</text>
<text x="572.3" y="594.2" text-anchor="middle" font-family="Liberation Sans, Noto Sans CJK JP, sans-serif" font-size="11.3" font-weight="bold" fill="#c4c5ca" stroke="#07090e" stroke-width="2" stroke-opacity="0.5" paint-order="stroke" textLength="15.2" lengthAdjust="spacingAndGlyphs">15</text>
<text x="650.8" y="594.2" text-anchor="middle" font-family="Liberation Sans, Noto Sans CJK JP, sans-serif" font-size="11.3" font-weight="bold" fill="#c4c5ca" stroke="#07090e" stroke-width="2" stroke-opacity="0.5" paint-order="stroke" textLength="15.2" lengthAdjust="spacingAndGlyphs">22</text>
<text x="763.3" y="594.2" text-anchor="middle" font-family="Liberation Sans, Noto Sans CJK JP, sans-serif" font-size="11.3" font-weight="bold" fill="#c4c5ca" stroke="#07090e" stroke-width="2" stroke-opacity="0.5" paint-order="stroke" textLength="19.0" lengthAdjust="spacingAndGlyphs">4月</text>
<text x="843.3" y="594.2" text-anchor="middle" font-family="Liberation Sans, Noto Sans CJK JP, sans-serif" font-size="11.3" font-weight="bold" fill="#c4c5ca" stroke="#07090e" stroke-width="2" stroke-opacity="0.5" paint-order="stroke" textLength="8.6" lengthAdjust="spacingAndGlyphs">8</text>
<text x="923.3" y="594.2" text-anchor="middle" font-family="Liberation Sans, Noto Sans CJK JP, sans-serif" font-size="11.3" font-weight="bold" fill="#c4c5ca" stroke="#07090e" stroke-width="2" stroke-opacity="0.5" paint-order="stroke" textLength="15.2" lengthAdjust="spacingAndGlyphs">15</text>
<text x="1002.3" y="594.2" text-anchor="middle" font-family="Liberation Sans, Noto Sans CJK JP, sans-serif" font-size="11.3" font-weight="bold" fill="#c4c5ca" stroke="#07090e" stroke-width="2" stroke-opacity="0.5" paint-order="stroke" textLength="15.2" lengthAdjust="spacingAndGlyphs">22</text>
<text x="1103.3" y="594.2" text-anchor="middle" font-family="Liberation Sans, Noto Sans CJK JP, sans-serif" font-size="11.3" font-weight="bold" fill="#c4c5ca" stroke="#07090e" stroke-width="2" stroke-opacity="0.5" paint-order="stroke" textLength="19.0" lengthAdjust="spacingAndGlyphs">5月</text>
<polygon points="1161.6,589.4 1165.2,584.3 1172.5,584.3 1176.1,589.4 1172.5,594.5 1165.2,594.5" fill="none" stroke="#05070b" stroke-opacity="0.6" stroke-width="3.4"/>
<polygon points="1161.6,589.4 1165.2,584.3 1172.5,584.3 1176.1,589.4 1172.5,594.5 1165.2,594.5" fill="none" stroke="#d1d4dc" stroke-width="1.35"/>
<ellipse cx="1168.8" cy="589.4" rx="2.3" ry="1.8" fill="none" stroke="#d1d4dc" stroke-width="1.2"/>
<ellipse cx="23.45" cy="552.5" rx="16.6" ry="13.9" fill="#15161f" stroke="#4a4d57" stroke-width="1.3"/>
<g transform="translate(12.4,545.8) scale(0.645,0.542)" fill="#ffffff"><path d="M14 22H7V11H0V4h14v18zM28 22h-8l7.5-18h8L28 22z"/><circle cx="20" cy="8" r="4"/></g>
<rect x="4.3" y="103.8" width="27.6" height="16.8" rx="3" fill="rgba(30,34,45,0.85)" stroke="#363a45" stroke-width="1"/>
<polyline points="14.5,114 18.2,110.4 21.9,114" fill="none" stroke="#d1d4dc" stroke-width="1.6"/>
<rect x="0.0" y="0.0" width="712.0" height="21.0" fill="rgba(27,31,43,0.62)"/>
<rect x="0.0" y="22.0" width="128.0" height="18.0" fill="rgba(27,31,43,0.62)"/>
<rect x="0.0" y="42.0" width="108.0" height="18.0" fill="rgba(27,31,43,0.62)"/>
<rect x="0.0" y="62.0" width="108.0" height="18.0" fill="rgba(27,31,43,0.62)"/>
<rect x="0.0" y="82.5" width="293.0" height="15.0" fill="rgba(27,31,43,0.62)"/>
<text x="4.7" y="14.7" font-family="Liberation Sans, Noto Sans CJK JP, sans-serif" font-size="15.0" font-weight="normal" fill="#cbccd1" stroke="#07090e" stroke-width="2.2" stroke-opacity="0.5" stroke-linejoin="round" paint-order="stroke" textLength="156.0" lengthAdjust="spacingAndGlyphs">bitbank · 1日 · btc_jpy</text>
<text x="4.7" y="14.7" font-family="Liberation Sans, Noto Sans CJK JP, sans-serif" font-size="15.0" font-weight="normal" fill="#cbccd1" stroke="#cbccd1" stroke-width="0.22" textLength="156.0" lengthAdjust="spacingAndGlyphs">bitbank · 1日 · btc_jpy</text>
<ellipse cx="184.7" cy="9.3" rx="8.6" ry="7.6" fill="#184346"/>
<ellipse cx="184.7" cy="9.2" rx="4.6" ry="4.1" fill="#0d1a22" fill-opacity="0.6"/>
<ellipse cx="184.7" cy="9.2" rx="4.3" ry="3.9" fill="#12ad95"/>
<text x="209.7" y="13.4" font-family="Liberation Sans, Noto Sans CJK JP, sans-serif" font-size="11.5" font-weight="normal" fill="#cbccd1" stroke="#07090e" stroke-width="2.2" stroke-opacity="0.5" stroke-linejoin="round" paint-order="stroke" textLength="25.3" lengthAdjust="spacingAndGlyphs">始値</text>
<text x="209.7" y="13.4" font-family="Liberation Sans, Noto Sans CJK JP, sans-serif" font-size="11.5" font-weight="normal" fill="#cbccd1" stroke="#cbccd1" stroke-width="0.22" textLength="25.3" lengthAdjust="spacingAndGlyphs">始値</text>
<text x="237.3" y="13.4" font-family="Liberation Sans, Noto Sans CJK JP, sans-serif" font-size="11.2" font-weight="normal" fill="#dc524c" stroke="#07090e" stroke-width="2.2" stroke-opacity="0.5" stroke-linejoin="round" paint-order="stroke" textLength="62.8" lengthAdjust="spacingAndGlyphs">11233876</text>
<text x="237.3" y="13.4" font-family="Liberation Sans, Noto Sans CJK JP, sans-serif" font-size="11.2" font-weight="normal" fill="#dc524c" stroke="#dc524c" stroke-width="0.22" textLength="62.8" lengthAdjust="spacingAndGlyphs">11233876</text>
<text x="306.6" y="13.4" font-family="Liberation Sans, Noto Sans CJK JP, sans-serif" font-size="11.5" font-weight="normal" fill="#cbccd1" stroke="#07090e" stroke-width="2.2" stroke-opacity="0.5" stroke-linejoin="round" paint-order="stroke" textLength="25.3" lengthAdjust="spacingAndGlyphs">高値</text>
<text x="306.6" y="13.4" font-family="Liberation Sans, Noto Sans CJK JP, sans-serif" font-size="11.5" font-weight="normal" fill="#cbccd1" stroke="#cbccd1" stroke-width="0.22" textLength="25.3" lengthAdjust="spacingAndGlyphs">高値</text>
<text x="333.7" y="13.4" font-family="Liberation Sans, Noto Sans CJK JP, sans-serif" font-size="11.2" font-weight="normal" fill="#dc524c" stroke="#07090e" stroke-width="2.2" stroke-opacity="0.5" stroke-linejoin="round" paint-order="stroke" textLength="62.8" lengthAdjust="spacingAndGlyphs">11255277</text>
<text x="333.7" y="13.4" font-family="Liberation Sans, Noto Sans CJK JP, sans-serif" font-size="11.2" font-weight="normal" fill="#dc524c" stroke="#dc524c" stroke-width="0.22" textLength="62.8" lengthAdjust="spacingAndGlyphs">11255277</text>
<text x="403.3" y="13.4" font-family="Liberation Sans, Noto Sans CJK JP, sans-serif" font-size="11.5" font-weight="normal" fill="#cbccd1" stroke="#07090e" stroke-width="2.2" stroke-opacity="0.5" stroke-linejoin="round" paint-order="stroke" textLength="25.3" lengthAdjust="spacingAndGlyphs">安値</text>
<text x="403.3" y="13.4" font-family="Liberation Sans, Noto Sans CJK JP, sans-serif" font-size="11.5" font-weight="normal" fill="#cbccd1" stroke="#cbccd1" stroke-width="0.22" textLength="25.3" lengthAdjust="spacingAndGlyphs">安値</text>
<text x="431.0" y="13.4" font-family="Liberation Sans, Noto Sans CJK JP, sans-serif" font-size="11.2" font-weight="normal" fill="#dc524c" stroke="#07090e" stroke-width="2.2" stroke-opacity="0.5" stroke-linejoin="round" paint-order="stroke" textLength="62.5" lengthAdjust="spacingAndGlyphs">11155578</text>
<text x="431.0" y="13.4" font-family="Liberation Sans, Noto Sans CJK JP, sans-serif" font-size="11.2" font-weight="normal" fill="#dc524c" stroke="#dc524c" stroke-width="0.22" textLength="62.5" lengthAdjust="spacingAndGlyphs">11155578</text>
<text x="500.2" y="13.4" font-family="Liberation Sans, Noto Sans CJK JP, sans-serif" font-size="11.5" font-weight="normal" fill="#cbccd1" stroke="#07090e" stroke-width="2.2" stroke-opacity="0.5" stroke-linejoin="round" paint-order="stroke" textLength="25.3" lengthAdjust="spacingAndGlyphs">終値</text>
<text x="500.2" y="13.4" font-family="Liberation Sans, Noto Sans CJK JP, sans-serif" font-size="11.5" font-weight="normal" fill="#cbccd1" stroke="#cbccd1" stroke-width="0.22" textLength="25.3" lengthAdjust="spacingAndGlyphs">終値</text>
<text x="528.4" y="13.4" font-family="Liberation Sans, Noto Sans CJK JP, sans-serif" font-size="11.2" font-weight="normal" fill="#dc524c" stroke="#07090e" stroke-width="2.2" stroke-opacity="0.5" stroke-linejoin="round" paint-order="stroke" textLength="62.8" lengthAdjust="spacingAndGlyphs">11191446</text>
<text x="528.4" y="13.4" font-family="Liberation Sans, Noto Sans CJK JP, sans-serif" font-size="11.2" font-weight="normal" fill="#dc524c" stroke="#dc524c" stroke-width="0.22" textLength="62.8" lengthAdjust="spacingAndGlyphs">11191446</text>
<text x="598.4" y="13.4" font-family="Liberation Sans, Noto Sans CJK JP, sans-serif" font-size="11.2" font-weight="normal" fill="#dc524c" stroke="#07090e" stroke-width="2.2" stroke-opacity="0.5" stroke-linejoin="round" paint-order="stroke" textLength="45.7" lengthAdjust="spacingAndGlyphs">−43471</text>
<text x="598.4" y="13.4" font-family="Liberation Sans, Noto Sans CJK JP, sans-serif" font-size="11.2" font-weight="normal" fill="#dc524c" stroke="#dc524c" stroke-width="0.22" textLength="45.7" lengthAdjust="spacingAndGlyphs">−43471</text>
<text x="649.3" y="13.4" font-family="Liberation Sans, Noto Sans CJK JP, sans-serif" font-size="11.2" font-weight="normal" fill="#dc524c" stroke="#07090e" stroke-width="2.2" stroke-opacity="0.5" stroke-linejoin="round" paint-order="stroke" textLength="52.9" lengthAdjust="spacingAndGlyphs">(−0.39%)</text>
<text x="649.3" y="13.4" font-family="Liberation Sans, Noto Sans CJK JP, sans-serif" font-size="11.2" font-weight="normal" fill="#dc524c" stroke="#dc524c" stroke-width="0.22" textLength="52.9" lengthAdjust="spacingAndGlyphs">(−0.39%)</text>
<text x="4.7" y="35.0" font-family="Liberation Sans, Noto Sans CJK JP, sans-serif" font-size="11.6" font-weight="normal" fill="#cbccd1" stroke="#07090e" stroke-width="2.2" stroke-opacity="0.5" stroke-linejoin="round" paint-order="stroke" textLength="94.5" lengthAdjust="spacingAndGlyphs">Volume (出来高)</text>
<text x="4.7" y="35.0" font-family="Liberation Sans, Noto Sans CJK JP, sans-serif" font-size="11.6" font-weight="normal" fill="#cbccd1" stroke="#cbccd1" stroke-width="0.22" textLength="94.5" lengthAdjust="spacingAndGlyphs">Volume (出来高)</text>
<text x="109.0" y="35.0" font-family="Liberation Sans, Noto Sans CJK JP, sans-serif" font-size="11.6" font-weight="normal" fill="#dc524c" stroke="#07090e" stroke-width="2.2" stroke-opacity="0.5" stroke-linejoin="round" paint-order="stroke" textLength="13.8" lengthAdjust="spacingAndGlyphs">11</text>
<text x="109.0" y="35.0" font-family="Liberation Sans, Noto Sans CJK JP, sans-serif" font-size="11.6" font-weight="normal" fill="#dc524c" stroke="#dc524c" stroke-width="0.22" textLength="13.8" lengthAdjust="spacingAndGlyphs">11</text>
<text x="5.0" y="54.8" font-family="Liberation Sans, Noto Sans CJK JP, sans-serif" font-size="11.2" font-weight="normal" fill="#cbccd1" stroke="#07090e" stroke-width="2.2" stroke-opacity="0.5" stroke-linejoin="round" paint-order="stroke" textLength="25.6" lengthAdjust="spacingAndGlyphs">EMA</text>
<text x="5.0" y="54.8" font-family="Liberation Sans, Noto Sans CJK JP, sans-serif" font-size="11.2" font-weight="normal" fill="#cbccd1" stroke="#cbccd1" stroke-width="0.22" textLength="25.6" lengthAdjust="spacingAndGlyphs">EMA</text>
<text x="40.2" y="54.8" font-family="Liberation Sans, Noto Sans CJK JP, sans-serif" font-size="11.2" font-weight="normal" fill="#1ec3dc" stroke="#07090e" stroke-width="2.2" stroke-opacity="0.5" stroke-linejoin="round" paint-order="stroke" textLength="62.8" lengthAdjust="spacingAndGlyphs">11176189</text>
<text x="40.2" y="54.8" font-family="Liberation Sans, Noto Sans CJK JP, sans-serif" font-size="11.2" font-weight="normal" fill="#1ec3dc" stroke="#1ec3dc" stroke-width="0.22" textLength="62.8" lengthAdjust="spacingAndGlyphs">11176189</text>
<text x="5.0" y="75.0" font-family="Liberation Sans, Noto Sans CJK JP, sans-serif" font-size="11.2" font-weight="normal" fill="#cbccd1" stroke="#07090e" stroke-width="2.2" stroke-opacity="0.5" stroke-linejoin="round" paint-order="stroke" textLength="25.6" lengthAdjust="spacingAndGlyphs">EMA</text>
<text x="5.0" y="75.0" font-family="Liberation Sans, Noto Sans CJK JP, sans-serif" font-size="11.2" font-weight="normal" fill="#cbccd1" stroke="#cbccd1" stroke-width="0.22" textLength="25.6" lengthAdjust="spacingAndGlyphs">EMA</text>
<text x="40.2" y="75.0" font-family="Liberation Sans, Noto Sans CJK JP, sans-serif" font-size="11.2" font-weight="normal" fill="#fdd835" stroke="#07090e" stroke-width="2.2" stroke-opacity="0.5" stroke-linejoin="round" paint-order="stroke" textLength="62.8" lengthAdjust="spacingAndGlyphs">11422898</text>
<text x="40.2" y="75.0" font-family="Liberation Sans, Noto Sans CJK JP, sans-serif" font-size="11.2" font-weight="normal" fill="#fdd835" stroke="#fdd835" stroke-width="0.22" textLength="62.8" lengthAdjust="spacingAndGlyphs">11422898</text>
<text x="4.4" y="95.6" font-family="Liberation Sans, Noto Sans CJK JP, sans-serif" font-size="11.5" font-weight="normal" fill="#cbccd1" stroke="#07090e" stroke-width="2.2" stroke-opacity="0.5" stroke-linejoin="round" paint-order="stroke" textLength="71.8" lengthAdjust="spacingAndGlyphs">一目均衡表®</text>
<text x="4.4" y="95.6" font-family="Liberation Sans, Noto Sans CJK JP, sans-serif" font-size="11.5" font-weight="normal" fill="#cbccd1" stroke="#cbccd1" stroke-width="0.22" textLength="71.8" lengthAdjust="spacingAndGlyphs">一目均衡表®</text>
<text x="86.9" y="95.6" font-family="Liberation Sans, Noto Sans CJK JP, sans-serif" font-size="11.2" font-weight="normal" fill="#43a047" stroke="#07090e" stroke-width="2.2" stroke-opacity="0.5" stroke-linejoin="round" paint-order="stroke" textLength="61.8" lengthAdjust="spacingAndGlyphs">11191446</text>
<text x="86.9" y="95.6" font-family="Liberation Sans, Noto Sans CJK JP, sans-serif" font-size="11.2" font-weight="normal" fill="#43a047" stroke="#43a047" stroke-width="0.22" textLength="61.8" lengthAdjust="spacingAndGlyphs">11191446</text>
<text x="156.8" y="95.6" font-family="Liberation Sans, Noto Sans CJK JP, sans-serif" font-size="11.2" font-weight="normal" fill="#a5d6a7" stroke="#07090e" stroke-width="2.2" stroke-opacity="0.5" stroke-linejoin="round" paint-order="stroke" textLength="61.6" lengthAdjust="spacingAndGlyphs">11222052</text>
<text x="156.8" y="95.6" font-family="Liberation Sans, Noto Sans CJK JP, sans-serif" font-size="11.2" font-weight="normal" fill="#a5d6a7" stroke="#a5d6a7" stroke-width="0.22" textLength="61.6" lengthAdjust="spacingAndGlyphs">11222052</text>
<text x="227.5" y="95.6" font-family="Liberation Sans, Noto Sans CJK JP, sans-serif" font-size="11.2" font-weight="normal" fill="#ef9a9a" stroke="#07090e" stroke-width="2.2" stroke-opacity="0.5" stroke-linejoin="round" paint-order="stroke" textLength="61.3" lengthAdjust="spacingAndGlyphs">10950000</text>
<text x="227.5" y="95.6" font-family="Liberation Sans, Noto Sans CJK JP, sans-serif" font-size="11.2" font-weight="normal" fill="#ef9a9a" stroke="#ef9a9a" stroke-width="0.22" textLength="61.3" lengthAdjust="spacingAndGlyphs">10950000</text>
</svg></body></html>
